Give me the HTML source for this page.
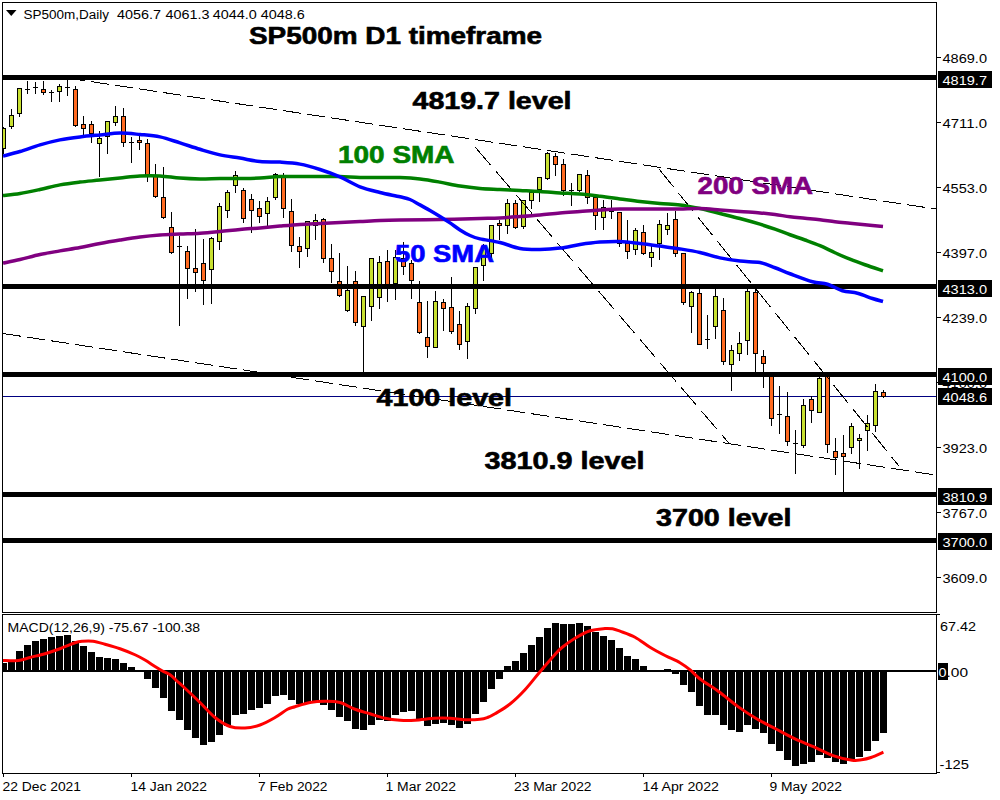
<!DOCTYPE html>
<html><head><meta charset="utf-8"><style>
html,body{margin:0;padding:0;background:#fff;}
body{width:1000px;height:800px;position:relative;overflow:hidden;}
svg{position:absolute;left:0;top:0;}
</style></head><body>
<svg width="1000" height="800" viewBox="0 0 1000 800">
<rect x="0" y="0" width="1000" height="800" fill="#fff"/>
<defs><clipPath id="mc"><rect x="3" y="3" width="933" height="609"/></clipPath><clipPath id="mm"><rect x="3" y="615" width="933" height="158"/></clipPath></defs>
<g shape-rendering="crispEdges"><rect x="2" y="2" width="935" height="1" fill="#000"/><rect x="2" y="2" width="1" height="611" fill="#000"/><rect x="2" y="612" width="935" height="1" fill="#000"/><rect x="936" y="2" width="1" height="611" fill="#000"/><rect x="2" y="614" width="935" height="1" fill="#000"/><rect x="2" y="614" width="1" height="160" fill="#000"/><rect x="2" y="773" width="935" height="1" fill="#000"/><rect x="936" y="614" width="1" height="160" fill="#000"/><rect x="937" y="57" width="4" height="1" fill="#000"/><rect x="937" y="122" width="4" height="1" fill="#000"/><rect x="937" y="187" width="4" height="1" fill="#000"/><rect x="937" y="252" width="4" height="1" fill="#000"/><rect x="937" y="317" width="4" height="1" fill="#000"/><rect x="937" y="382" width="4" height="1" fill="#000"/><rect x="937" y="447" width="4" height="1" fill="#000"/><rect x="937" y="512" width="4" height="1" fill="#000"/><rect x="937" y="577" width="4" height="1" fill="#000"/><rect x="3" y="774" width="1" height="3" fill="#000"/><rect x="131" y="774" width="1" height="3" fill="#000"/><rect x="259" y="774" width="1" height="3" fill="#000"/><rect x="387" y="774" width="1" height="3" fill="#000"/><rect x="515" y="774" width="1" height="3" fill="#000"/><rect x="643" y="774" width="1" height="3" fill="#000"/><rect x="771" y="774" width="1" height="3" fill="#000"/><rect x="937" y="614" width="3" height="1" fill="#000"/><rect x="937" y="772" width="3" height="1" fill="#000"/></g>
<g clip-path="url(#mc)">
<rect x="3" y="396" width="933" height="1" fill="#000080" shape-rendering="crispEdges"/>
<g shape-rendering="crispEdges"><rect x="3" y="127" width="1" height="27" fill="#000"/><rect x="1" y="128" width="5" height="21" fill="#000"/><rect x="2" y="129" width="3" height="19" fill="#c8e030"/><rect x="11" y="109" width="1" height="20" fill="#000"/><rect x="9" y="115" width="5" height="12" fill="#000"/><rect x="10" y="116" width="3" height="10" fill="#c8e030"/><rect x="19" y="88" width="1" height="29" fill="#000"/><rect x="17" y="88" width="5" height="26" fill="#000"/><rect x="18" y="89" width="3" height="24" fill="#c8e030"/><rect x="27" y="81" width="1" height="13" fill="#000"/><rect x="25" y="89" width="5" height="1" fill="#000"/><rect x="35" y="82" width="1" height="12" fill="#000"/><rect x="33" y="87" width="5" height="1" fill="#000"/><rect x="43" y="81" width="1" height="14" fill="#000"/><rect x="41" y="89" width="5" height="4" fill="#000"/><rect x="42" y="90" width="3" height="2" fill="#ff6a20"/><rect x="51" y="90" width="1" height="12" fill="#000"/><rect x="49" y="92" width="5" height="1" fill="#000"/><rect x="59" y="84" width="1" height="18" fill="#000"/><rect x="57" y="86" width="5" height="6" fill="#000"/><rect x="58" y="87" width="3" height="4" fill="#c8e030"/><rect x="67" y="80" width="1" height="16" fill="#000"/><rect x="65" y="87" width="5" height="1" fill="#000"/><rect x="75" y="86" width="1" height="41" fill="#000"/><rect x="73" y="89" width="5" height="37" fill="#000"/><rect x="74" y="90" width="3" height="35" fill="#ff6a20"/><rect x="83" y="116" width="1" height="19" fill="#000"/><rect x="81" y="124" width="5" height="5" fill="#000"/><rect x="82" y="125" width="3" height="3" fill="#ff6a20"/><rect x="91" y="121" width="1" height="22" fill="#000"/><rect x="89" y="124" width="5" height="10" fill="#000"/><rect x="90" y="125" width="3" height="8" fill="#ff6a20"/><rect x="99" y="131" width="1" height="46" fill="#000"/><rect x="97" y="138" width="5" height="6" fill="#000"/><rect x="98" y="139" width="3" height="4" fill="#c8e030"/><rect x="107" y="121" width="1" height="33" fill="#000"/><rect x="105" y="121" width="5" height="16" fill="#000"/><rect x="106" y="122" width="3" height="14" fill="#c8e030"/><rect x="115" y="106" width="1" height="20" fill="#000"/><rect x="113" y="116" width="5" height="7" fill="#000"/><rect x="114" y="117" width="3" height="5" fill="#c8e030"/><rect x="123" y="108" width="1" height="39" fill="#000"/><rect x="121" y="116" width="5" height="27" fill="#000"/><rect x="122" y="117" width="3" height="25" fill="#ff6a20"/><rect x="131" y="137" width="1" height="26" fill="#000"/><rect x="129" y="142" width="5" height="1" fill="#000"/><rect x="139" y="136" width="1" height="14" fill="#000"/><rect x="137" y="140" width="5" height="3" fill="#000"/><rect x="138" y="141" width="3" height="1" fill="#ff6a20"/><rect x="147" y="139" width="1" height="43" fill="#000"/><rect x="145" y="143" width="5" height="33" fill="#000"/><rect x="146" y="144" width="3" height="31" fill="#ff6a20"/><rect x="155" y="164" width="1" height="34" fill="#000"/><rect x="153" y="176" width="5" height="21" fill="#000"/><rect x="154" y="177" width="3" height="19" fill="#ff6a20"/><rect x="163" y="167" width="1" height="52" fill="#000"/><rect x="161" y="197" width="5" height="21" fill="#000"/><rect x="162" y="198" width="3" height="19" fill="#ff6a20"/><rect x="171" y="212" width="1" height="42" fill="#000"/><rect x="169" y="227" width="5" height="26" fill="#000"/><rect x="170" y="228" width="3" height="24" fill="#ff6a20"/><rect x="179" y="236" width="1" height="90" fill="#000"/><rect x="177" y="246" width="5" height="1" fill="#000"/><rect x="187" y="246" width="1" height="53" fill="#000"/><rect x="185" y="251" width="5" height="18" fill="#000"/><rect x="186" y="252" width="3" height="16" fill="#ff6a20"/><rect x="195" y="229" width="1" height="63" fill="#000"/><rect x="193" y="268" width="5" height="5" fill="#000"/><rect x="194" y="269" width="3" height="3" fill="#ff6a20"/><rect x="203" y="239" width="1" height="66" fill="#000"/><rect x="201" y="263" width="5" height="18" fill="#000"/><rect x="202" y="264" width="3" height="16" fill="#ff6a20"/><rect x="211" y="237" width="1" height="67" fill="#000"/><rect x="209" y="238" width="5" height="32" fill="#000"/><rect x="210" y="239" width="3" height="30" fill="#c8e030"/><rect x="219" y="203" width="1" height="47" fill="#000"/><rect x="217" y="206" width="5" height="36" fill="#000"/><rect x="218" y="207" width="3" height="34" fill="#c8e030"/><rect x="227" y="190" width="1" height="28" fill="#000"/><rect x="225" y="192" width="5" height="19" fill="#000"/><rect x="226" y="193" width="3" height="17" fill="#c8e030"/><rect x="235" y="171" width="1" height="22" fill="#000"/><rect x="233" y="175" width="5" height="11" fill="#000"/><rect x="234" y="176" width="3" height="9" fill="#c8e030"/><rect x="243" y="188" width="1" height="35" fill="#000"/><rect x="241" y="190" width="5" height="29" fill="#000"/><rect x="242" y="191" width="3" height="27" fill="#ff6a20"/><rect x="251" y="194" width="1" height="39" fill="#000"/><rect x="249" y="199" width="5" height="12" fill="#000"/><rect x="250" y="200" width="3" height="10" fill="#ff6a20"/><rect x="259" y="201" width="1" height="22" fill="#000"/><rect x="257" y="208" width="5" height="9" fill="#000"/><rect x="258" y="209" width="3" height="7" fill="#ff6a20"/><rect x="267" y="197" width="1" height="29" fill="#000"/><rect x="265" y="201" width="5" height="13" fill="#000"/><rect x="266" y="202" width="3" height="11" fill="#c8e030"/><rect x="275" y="173" width="1" height="27" fill="#000"/><rect x="273" y="174" width="5" height="24" fill="#000"/><rect x="274" y="175" width="3" height="22" fill="#c8e030"/><rect x="283" y="173" width="1" height="45" fill="#000"/><rect x="281" y="176" width="5" height="33" fill="#000"/><rect x="282" y="177" width="3" height="31" fill="#ff6a20"/><rect x="291" y="199" width="1" height="53" fill="#000"/><rect x="289" y="211" width="5" height="35" fill="#000"/><rect x="290" y="212" width="3" height="33" fill="#ff6a20"/><rect x="299" y="237" width="1" height="31" fill="#000"/><rect x="297" y="246" width="5" height="6" fill="#000"/><rect x="298" y="247" width="3" height="4" fill="#ff6a20"/><rect x="307" y="221" width="1" height="36" fill="#000"/><rect x="305" y="221" width="5" height="28" fill="#000"/><rect x="306" y="222" width="3" height="26" fill="#c8e030"/><rect x="315" y="214" width="1" height="26" fill="#000"/><rect x="313" y="220" width="5" height="6" fill="#000"/><rect x="314" y="221" width="3" height="4" fill="#c8e030"/><rect x="323" y="218" width="1" height="45" fill="#000"/><rect x="321" y="219" width="5" height="40" fill="#000"/><rect x="322" y="220" width="3" height="38" fill="#ff6a20"/><rect x="331" y="244" width="1" height="39" fill="#000"/><rect x="329" y="258" width="5" height="14" fill="#000"/><rect x="330" y="259" width="3" height="12" fill="#ff6a20"/><rect x="339" y="253" width="1" height="44" fill="#000"/><rect x="337" y="281" width="5" height="15" fill="#000"/><rect x="338" y="282" width="3" height="13" fill="#ff6a20"/><rect x="347" y="266" width="1" height="46" fill="#000"/><rect x="345" y="290" width="5" height="21" fill="#000"/><rect x="346" y="291" width="3" height="19" fill="#c8e030"/><rect x="355" y="271" width="1" height="55" fill="#000"/><rect x="353" y="281" width="5" height="42" fill="#000"/><rect x="354" y="282" width="3" height="40" fill="#ff6a20"/><rect x="363" y="296" width="1" height="76" fill="#000"/><rect x="361" y="296" width="5" height="31" fill="#000"/><rect x="362" y="297" width="3" height="29" fill="#c8e030"/><rect x="371" y="258" width="1" height="63" fill="#000"/><rect x="369" y="258" width="5" height="49" fill="#000"/><rect x="370" y="259" width="3" height="47" fill="#c8e030"/><rect x="379" y="256" width="1" height="53" fill="#000"/><rect x="377" y="262" width="5" height="36" fill="#000"/><rect x="378" y="263" width="3" height="34" fill="#c8e030"/><rect x="387" y="250" width="1" height="52" fill="#000"/><rect x="385" y="261" width="5" height="28" fill="#000"/><rect x="386" y="262" width="3" height="26" fill="#ff6a20"/><rect x="395" y="250" width="1" height="50" fill="#000"/><rect x="393" y="257" width="5" height="27" fill="#000"/><rect x="394" y="258" width="3" height="25" fill="#c8e030"/><rect x="403" y="242" width="1" height="33" fill="#000"/><rect x="401" y="258" width="5" height="9" fill="#000"/><rect x="402" y="259" width="3" height="7" fill="#ff6a20"/><rect x="411" y="260" width="1" height="39" fill="#000"/><rect x="409" y="263" width="5" height="18" fill="#000"/><rect x="410" y="264" width="3" height="16" fill="#ff6a20"/><rect x="419" y="281" width="1" height="53" fill="#000"/><rect x="417" y="302" width="5" height="31" fill="#000"/><rect x="418" y="303" width="3" height="29" fill="#ff6a20"/><rect x="427" y="301" width="1" height="57" fill="#000"/><rect x="425" y="337" width="5" height="10" fill="#000"/><rect x="426" y="338" width="3" height="8" fill="#ff6a20"/><rect x="435" y="291" width="1" height="57" fill="#000"/><rect x="433" y="301" width="5" height="47" fill="#000"/><rect x="434" y="302" width="3" height="45" fill="#c8e030"/><rect x="443" y="299" width="1" height="32" fill="#000"/><rect x="441" y="302" width="5" height="7" fill="#000"/><rect x="442" y="303" width="3" height="5" fill="#ff6a20"/><rect x="451" y="277" width="1" height="57" fill="#000"/><rect x="449" y="307" width="5" height="25" fill="#000"/><rect x="450" y="308" width="3" height="23" fill="#ff6a20"/><rect x="459" y="311" width="1" height="39" fill="#000"/><rect x="457" y="324" width="5" height="21" fill="#000"/><rect x="458" y="325" width="3" height="19" fill="#ff6a20"/><rect x="467" y="303" width="1" height="56" fill="#000"/><rect x="465" y="306" width="5" height="36" fill="#000"/><rect x="466" y="307" width="3" height="34" fill="#c8e030"/><rect x="475" y="267" width="1" height="47" fill="#000"/><rect x="473" y="267" width="5" height="42" fill="#000"/><rect x="474" y="268" width="3" height="40" fill="#c8e030"/><rect x="483" y="244" width="1" height="37" fill="#000"/><rect x="481" y="246" width="5" height="20" fill="#000"/><rect x="482" y="247" width="3" height="18" fill="#c8e030"/><rect x="491" y="225" width="1" height="33" fill="#000"/><rect x="489" y="225" width="5" height="29" fill="#000"/><rect x="490" y="226" width="3" height="27" fill="#c8e030"/><rect x="499" y="220" width="1" height="20" fill="#000"/><rect x="497" y="223" width="5" height="3" fill="#000"/><rect x="498" y="224" width="3" height="1" fill="#ff6a20"/><rect x="507" y="199" width="1" height="35" fill="#000"/><rect x="505" y="203" width="5" height="23" fill="#000"/><rect x="506" y="204" width="3" height="21" fill="#c8e030"/><rect x="515" y="200" width="1" height="29" fill="#000"/><rect x="513" y="203" width="5" height="25" fill="#000"/><rect x="514" y="204" width="3" height="23" fill="#ff6a20"/><rect x="523" y="200" width="1" height="29" fill="#000"/><rect x="521" y="200" width="5" height="27" fill="#000"/><rect x="522" y="201" width="3" height="25" fill="#c8e030"/><rect x="531" y="190" width="1" height="19" fill="#000"/><rect x="529" y="192" width="5" height="9" fill="#000"/><rect x="530" y="193" width="3" height="7" fill="#c8e030"/><rect x="539" y="177" width="1" height="25" fill="#000"/><rect x="537" y="177" width="5" height="13" fill="#000"/><rect x="538" y="178" width="3" height="11" fill="#c8e030"/><rect x="547" y="152" width="1" height="28" fill="#000"/><rect x="545" y="153" width="5" height="26" fill="#000"/><rect x="546" y="154" width="3" height="24" fill="#c8e030"/><rect x="555" y="153" width="1" height="23" fill="#000"/><rect x="553" y="156" width="5" height="9" fill="#000"/><rect x="554" y="157" width="3" height="7" fill="#ff6a20"/><rect x="563" y="159" width="1" height="37" fill="#000"/><rect x="561" y="164" width="5" height="27" fill="#000"/><rect x="562" y="165" width="3" height="25" fill="#ff6a20"/><rect x="571" y="183" width="1" height="23" fill="#000"/><rect x="569" y="190" width="5" height="1" fill="#000"/><rect x="579" y="174" width="1" height="18" fill="#000"/><rect x="577" y="174" width="5" height="17" fill="#000"/><rect x="578" y="175" width="3" height="15" fill="#c8e030"/><rect x="587" y="170" width="1" height="34" fill="#000"/><rect x="585" y="175" width="5" height="23" fill="#000"/><rect x="586" y="176" width="3" height="21" fill="#ff6a20"/><rect x="595" y="197" width="1" height="33" fill="#000"/><rect x="593" y="197" width="5" height="19" fill="#000"/><rect x="594" y="198" width="3" height="17" fill="#ff6a20"/><rect x="603" y="200" width="1" height="30" fill="#000"/><rect x="601" y="207" width="5" height="11" fill="#000"/><rect x="602" y="208" width="3" height="9" fill="#c8e030"/><rect x="611" y="200" width="1" height="19" fill="#000"/><rect x="609" y="211" width="5" height="1" fill="#000"/><rect x="619" y="212" width="1" height="35" fill="#000"/><rect x="617" y="212" width="5" height="32" fill="#000"/><rect x="618" y="213" width="3" height="30" fill="#ff6a20"/><rect x="627" y="220" width="1" height="39" fill="#000"/><rect x="625" y="243" width="5" height="9" fill="#000"/><rect x="626" y="244" width="3" height="7" fill="#ff6a20"/><rect x="635" y="228" width="1" height="27" fill="#000"/><rect x="633" y="230" width="5" height="20" fill="#000"/><rect x="634" y="231" width="3" height="18" fill="#c8e030"/><rect x="643" y="225" width="1" height="30" fill="#000"/><rect x="641" y="232" width="5" height="22" fill="#000"/><rect x="642" y="233" width="3" height="20" fill="#ff6a20"/><rect x="651" y="246" width="1" height="21" fill="#000"/><rect x="649" y="252" width="5" height="6" fill="#000"/><rect x="650" y="253" width="3" height="4" fill="#c8e030"/><rect x="659" y="220" width="1" height="40" fill="#000"/><rect x="657" y="224" width="5" height="20" fill="#000"/><rect x="658" y="225" width="3" height="18" fill="#c8e030"/><rect x="667" y="213" width="1" height="22" fill="#000"/><rect x="665" y="225" width="5" height="5" fill="#000"/><rect x="666" y="226" width="3" height="3" fill="#c8e030"/><rect x="675" y="211" width="1" height="46" fill="#000"/><rect x="673" y="219" width="5" height="35" fill="#000"/><rect x="674" y="220" width="3" height="33" fill="#ff6a20"/><rect x="683" y="253" width="1" height="52" fill="#000"/><rect x="681" y="253" width="5" height="50" fill="#000"/><rect x="682" y="254" width="3" height="48" fill="#ff6a20"/><rect x="691" y="291" width="1" height="42" fill="#000"/><rect x="689" y="292" width="5" height="15" fill="#000"/><rect x="690" y="293" width="3" height="13" fill="#c8e030"/><rect x="699" y="288" width="1" height="57" fill="#000"/><rect x="697" y="293" width="5" height="52" fill="#000"/><rect x="698" y="294" width="3" height="50" fill="#ff6a20"/><rect x="707" y="315" width="1" height="34" fill="#000"/><rect x="705" y="339" width="5" height="1" fill="#000"/><rect x="715" y="286" width="1" height="53" fill="#000"/><rect x="713" y="296" width="5" height="31" fill="#000"/><rect x="714" y="297" width="3" height="29" fill="#c8e030"/><rect x="723" y="298" width="1" height="67" fill="#000"/><rect x="721" y="310" width="5" height="52" fill="#000"/><rect x="722" y="311" width="3" height="50" fill="#ff6a20"/><rect x="731" y="345" width="1" height="46" fill="#000"/><rect x="729" y="350" width="5" height="15" fill="#000"/><rect x="730" y="351" width="3" height="13" fill="#c8e030"/><rect x="739" y="332" width="1" height="29" fill="#000"/><rect x="737" y="343" width="5" height="11" fill="#000"/><rect x="738" y="344" width="3" height="9" fill="#c8e030"/><rect x="747" y="286" width="1" height="69" fill="#000"/><rect x="745" y="291" width="5" height="50" fill="#000"/><rect x="746" y="292" width="3" height="48" fill="#c8e030"/><rect x="755" y="286" width="1" height="86" fill="#000"/><rect x="753" y="292" width="5" height="62" fill="#000"/><rect x="754" y="293" width="3" height="60" fill="#ff6a20"/><rect x="763" y="350" width="1" height="38" fill="#000"/><rect x="761" y="356" width="5" height="8" fill="#000"/><rect x="762" y="357" width="3" height="6" fill="#ff6a20"/><rect x="771" y="372" width="1" height="54" fill="#000"/><rect x="769" y="373" width="5" height="46" fill="#000"/><rect x="770" y="374" width="3" height="44" fill="#ff6a20"/><rect x="779" y="386" width="1" height="48" fill="#000"/><rect x="777" y="414" width="5" height="1" fill="#000"/><rect x="787" y="392" width="1" height="54" fill="#000"/><rect x="785" y="416" width="5" height="26" fill="#000"/><rect x="786" y="417" width="3" height="24" fill="#ff6a20"/><rect x="795" y="430" width="1" height="44" fill="#000"/><rect x="793" y="443" width="5" height="1" fill="#000"/><rect x="803" y="399" width="1" height="49" fill="#000"/><rect x="801" y="405" width="5" height="41" fill="#000"/><rect x="802" y="406" width="3" height="39" fill="#c8e030"/><rect x="811" y="396" width="1" height="27" fill="#000"/><rect x="809" y="399" width="5" height="12" fill="#000"/><rect x="810" y="400" width="3" height="10" fill="#ff6a20"/><rect x="819" y="374" width="1" height="39" fill="#000"/><rect x="817" y="378" width="5" height="35" fill="#000"/><rect x="818" y="379" width="3" height="33" fill="#c8e030"/><rect x="827" y="374" width="1" height="79" fill="#000"/><rect x="825" y="376" width="5" height="69" fill="#000"/><rect x="826" y="377" width="3" height="67" fill="#ff6a20"/><rect x="835" y="438" width="1" height="37" fill="#000"/><rect x="833" y="451" width="5" height="7" fill="#000"/><rect x="834" y="452" width="3" height="5" fill="#ff6a20"/><rect x="843" y="435" width="1" height="57" fill="#000"/><rect x="841" y="453" width="5" height="4" fill="#000"/><rect x="842" y="454" width="3" height="2" fill="#ff6a20"/><rect x="851" y="423" width="1" height="31" fill="#000"/><rect x="849" y="426" width="5" height="22" fill="#000"/><rect x="850" y="427" width="3" height="20" fill="#c8e030"/><rect x="859" y="434" width="1" height="35" fill="#000"/><rect x="857" y="438" width="5" height="3" fill="#000"/><rect x="858" y="439" width="3" height="1" fill="#c8e030"/><rect x="867" y="415" width="1" height="36" fill="#000"/><rect x="865" y="423" width="5" height="8" fill="#000"/><rect x="866" y="424" width="3" height="6" fill="#c8e030"/><rect x="875" y="384" width="1" height="48" fill="#000"/><rect x="873" y="391" width="5" height="35" fill="#000"/><rect x="874" y="392" width="3" height="33" fill="#c8e030"/><rect x="883" y="390" width="1" height="8" fill="#000"/><rect x="881" y="392" width="5" height="5" fill="#000"/><rect x="882" y="393" width="3" height="3" fill="#ff6a20"/></g>
<g shape-rendering="crispEdges"><line x1="67" y1="78" x2="936" y2="209.05" stroke="#000" stroke-width="1" stroke-dasharray="18.20 6.07"/><line x1="3" y1="333.5" x2="936" y2="475.07" stroke="#000" stroke-width="1" stroke-dasharray="18.21 6.07"/><line x1="475.3" y1="147.2" x2="729" y2="443.25" stroke="#000" stroke-width="1" stroke-dasharray="23.71 7.90"/><line x1="659.1" y1="169.1" x2="898.7" y2="465.75" stroke="#000" stroke-width="1" stroke-dasharray="23.14 7.71"/></g>
<g shape-rendering="crispEdges"><rect x="3" y="75" width="934" height="5" fill="#000"/><rect x="3" y="284" width="934" height="5" fill="#000"/><rect x="3" y="372" width="934" height="5" fill="#000"/><rect x="3" y="492" width="934" height="5" fill="#000"/><rect x="3" y="538" width="934" height="5" fill="#000"/></g>
<g transform="translate(0,0.5)"><path d="M3,195 C5.83,194.67 13.83,194.00 20,193 C26.17,192.00 33.33,190.43 40,189 C46.67,187.57 53.33,185.63 60,184.4 C66.67,183.17 73.33,182.40 80,181.6 C86.67,180.80 93.33,180.30 100,179.6 C106.67,178.90 113.33,178.10 120,177.4 C126.67,176.70 133.33,175.73 140,175.4 C146.67,175.07 153.33,175.03 160,175.4 C166.67,175.77 173.33,177.08 180,177.6 C186.67,178.12 193.33,178.43 200,178.5 C206.67,178.57 213.33,178.08 220,178 C226.67,177.92 233.33,178.07 240,178 C246.67,177.93 253.33,177.93 260,177.6 C266.67,177.27 273.33,176.27 280,176 C286.67,175.73 293.33,176.00 300,176 C306.67,176.00 313.33,176.00 320,176 C326.67,176.00 333.33,175.83 340,176 C346.67,176.17 353.33,176.83 360,177 C366.67,177.17 373.33,177.00 380,177 C386.67,177.00 393.33,176.77 400,177 C406.67,177.23 413.33,177.63 420,178.4 C426.67,179.17 433.33,180.40 440,181.6 C446.67,182.80 453.33,184.53 460,185.6 C466.67,186.67 473.33,187.43 480,188 C486.67,188.57 493.33,188.67 500,189 C506.67,189.33 513.33,189.67 520,190 C526.67,190.33 533.33,190.60 540,191 C546.67,191.40 553.33,191.97 560,192.4 C566.67,192.83 573.33,193.03 580,193.6 C586.67,194.17 593.33,195.00 600,195.8 C606.67,196.60 613.33,197.53 620,198.4 C626.67,199.27 633.33,200.23 640,201 C646.67,201.77 653.33,202.43 660,203 C666.67,203.57 673.33,203.57 680,204.4 C686.67,205.23 693.33,206.57 700,208 C706.67,209.43 713.33,211.33 720,213 C726.67,214.67 733.33,216.22 740,218 C746.67,219.78 754.17,221.92 760,223.7 C765.83,225.48 770.00,226.94 775,228.7 C780.00,230.46 785.00,232.45 790,234.25 C795.00,236.05 800.00,237.68 805,239.5 C810.00,241.32 815.00,243.07 820,245.2 C825.00,247.32 830.00,250.00 835,252.25 C840.00,254.50 845.00,256.70 850,258.7 C855.00,260.70 859.50,262.32 865,264.25 C870.50,266.18 880.00,269.25 883,270.25" fill="none" stroke="#008000" stroke-width="3.5" stroke-linejoin="round"/><path d="M3,262.6 C5.83,262.00 13.83,260.43 20,259 C26.17,257.57 33.33,255.43 40,254 C46.67,252.57 53.33,251.57 60,250.4 C66.67,249.23 73.33,248.23 80,247 C86.67,245.77 93.33,244.23 100,243 C106.67,241.77 113.33,240.67 120,239.6 C126.67,238.53 133.33,237.43 140,236.6 C146.67,235.77 153.33,235.10 160,234.6 C166.67,234.10 173.33,233.92 180,233.6 C186.67,233.28 193.33,233.13 200,232.7 C206.67,232.27 213.33,231.62 220,231 C226.67,230.38 233.33,229.60 240,229 C246.67,228.40 253.33,227.97 260,227.4 C266.67,226.83 273.33,226.17 280,225.6 C286.67,225.03 293.33,224.43 300,224 C306.67,223.57 313.33,223.33 320,223 C326.67,222.67 333.33,222.33 340,222 C346.67,221.67 353.33,221.33 360,221 C366.67,220.67 373.33,220.25 380,220 C386.67,219.75 390.00,219.67 400,219.5 C410.00,219.33 426.67,219.25 440,219 C453.33,218.75 470.00,218.27 480,218 C490.00,217.73 493.33,217.73 500,217.4 C506.67,217.07 513.33,216.50 520,216 C526.67,215.50 533.33,215.00 540,214.4 C546.67,213.80 553.33,212.97 560,212.4 C566.67,211.83 573.33,211.47 580,211 C586.67,210.53 593.33,210.00 600,209.6 C606.67,209.20 613.33,208.77 620,208.6 C626.67,208.43 633.33,208.60 640,208.6 C646.67,208.60 653.33,208.63 660,208.6 C666.67,208.57 673.33,208.50 680,208.4 C686.67,208.30 693.33,207.83 700,208 C706.67,208.17 713.33,208.90 720,209.4 C726.67,209.90 733.33,210.50 740,211 C746.67,211.50 754.17,211.90 760,212.4 C765.83,212.90 770.00,213.36 775,214 C780.00,214.64 785.00,215.62 790,216.25 C795.00,216.88 800.00,217.25 805,217.75 C810.00,218.25 815.00,218.68 820,219.25 C825.00,219.82 830.00,220.62 835,221.2 C840.00,221.77 845.00,222.20 850,222.7 C855.00,223.20 859.50,223.65 865,224.2 C870.50,224.75 880.00,225.70 883,226" fill="none" stroke="#800080" stroke-width="3.5" stroke-linejoin="round"/><path d="M3,155.6 C5.83,154.83 13.83,152.87 20,151 C26.17,149.13 33.33,146.33 40,144.4 C46.67,142.47 53.33,140.73 60,139.4 C66.67,138.07 73.33,137.23 80,136.4 C86.67,135.57 93.33,135.03 100,134.4 C106.67,133.77 113.33,132.67 120,132.6 C126.67,132.53 133.33,133.37 140,134 C146.67,134.63 153.33,135.00 160,136.4 C166.67,137.80 173.33,140.33 180,142.4 C186.67,144.47 193.33,146.80 200,148.8 C206.67,150.80 213.33,152.93 220,154.4 C226.67,155.87 233.33,156.50 240,157.6 C246.67,158.70 253.33,160.33 260,161 C266.67,161.67 273.33,161.17 280,161.6 C286.67,162.03 293.33,162.37 300,163.6 C306.67,164.83 313.33,166.87 320,169 C326.67,171.13 333.33,173.50 340,176.4 C346.67,179.30 353.33,183.80 360,186.4 C366.67,189.00 373.33,190.35 380,192 C386.67,193.65 395.00,195.13 400,196.3 C405.00,197.47 406.67,197.65 410,199 C413.33,200.35 416.67,202.57 420,204.4 C423.33,206.23 426.67,208.07 430,210 C433.33,211.93 436.67,213.93 440,216 C443.33,218.07 446.67,220.17 450,222.4 C453.33,224.63 456.67,227.30 460,229.4 C463.33,231.50 466.67,233.50 470,235 C473.33,236.50 475.00,237.23 480,238.4 C485.00,239.57 493.33,240.40 500,242 C506.67,243.60 513.33,246.83 520,248 C526.67,249.17 533.33,249.07 540,249 C546.67,248.93 553.33,248.43 560,247.6 C566.67,246.77 573.33,245.00 580,244 C586.67,243.00 593.33,242.10 600,241.6 C606.67,241.10 613.33,240.77 620,241 C626.67,241.23 633.33,242.23 640,243 C646.67,243.77 653.33,244.70 660,245.6 C666.67,246.50 673.33,247.33 680,248.4 C686.67,249.47 693.33,250.50 700,252 C706.67,253.50 713.33,255.97 720,257.4 C726.67,258.83 733.33,259.83 740,260.6 C746.67,261.37 754.17,260.89 760,262 C765.83,263.11 770.00,265.38 775,267.25 C780.00,269.12 783.75,270.93 790,273.25 C796.25,275.57 806.25,279.45 812.5,281.2 C818.75,282.95 822.50,282.25 827.5,283.75 C832.50,285.25 837.50,288.70 842.5,290.2 C847.50,291.70 852.50,291.45 857.5,292.75 C862.50,294.05 868.25,296.62 872.5,298 C876.75,299.38 881.25,300.50 883,301" fill="none" stroke="#0000ff" stroke-width="3.5" stroke-linejoin="round"/></g>
</g>
<g><text x="23.5" y="18.7" font-family="Liberation Sans" font-size="12.5" font-weight="normal" fill="#000" textLength="85.5" lengthAdjust="spacingAndGlyphs">SP500m,Daily</text><text x="117" y="18.7" font-family="Liberation Sans" font-size="12.5" font-weight="normal" fill="#000" textLength="44" lengthAdjust="spacingAndGlyphs">4056.7</text><text x="165.5" y="18.7" font-family="Liberation Sans" font-size="12.5" font-weight="normal" fill="#000" textLength="44" lengthAdjust="spacingAndGlyphs">4061.3</text><text x="212.7" y="18.7" font-family="Liberation Sans" font-size="12.5" font-weight="normal" fill="#000" textLength="44" lengthAdjust="spacingAndGlyphs">4044.0</text><text x="260.7" y="18.7" font-family="Liberation Sans" font-size="12.5" font-weight="normal" fill="#000" textLength="44" lengthAdjust="spacingAndGlyphs">4048.6</text><text x="249" y="44" font-family="Liberation Sans" font-size="23" font-weight="bold" fill="#000" stroke="#000" stroke-width="0.6" textLength="293" lengthAdjust="spacingAndGlyphs">SP500m D1 timeframe</text><text x="412.5" y="109" font-family="Liberation Sans" font-size="23" font-weight="bold" fill="#000" stroke="#000" stroke-width="0.6" textLength="159" lengthAdjust="spacingAndGlyphs">4819.7 level</text><text x="338" y="162.6" font-family="Liberation Sans" font-size="23" font-weight="bold" fill="#008000" stroke="#008000" stroke-width="0.6" textLength="116.5" lengthAdjust="spacingAndGlyphs">100 SMA</text><text x="697.5" y="193.9" font-family="Liberation Sans" font-size="23" font-weight="bold" fill="#800080" stroke="#800080" stroke-width="0.6" textLength="115.5" lengthAdjust="spacingAndGlyphs">200 SMA</text><text x="395" y="262.2" font-family="Liberation Sans" font-size="23" font-weight="bold" fill="#0000ff" stroke="#0000ff" stroke-width="0.6" textLength="99" lengthAdjust="spacingAndGlyphs">50 SMA</text><text x="376.5" y="406" font-family="Liberation Sans" font-size="23" font-weight="bold" fill="#000" stroke="#000" stroke-width="0.6" textLength="135.5" lengthAdjust="spacingAndGlyphs">4100 level</text><text x="484.5" y="469" font-family="Liberation Sans" font-size="23" font-weight="bold" fill="#000" stroke="#000" stroke-width="0.6" textLength="160" lengthAdjust="spacingAndGlyphs">3810.9 level</text><text x="656" y="526" font-family="Liberation Sans" font-size="23" font-weight="bold" fill="#000" stroke="#000" stroke-width="0.6" textLength="135.5" lengthAdjust="spacingAndGlyphs">3700 level</text></g>
<g clip-path="url(#mm)"><g shape-rendering="crispEdges"><rect x="3" y="663" width="4" height="9" fill="#000"/><rect x="8" y="661" width="7" height="11" fill="#000"/><rect x="16" y="651" width="7" height="21" fill="#000"/><rect x="24" y="645" width="7" height="27" fill="#000"/><rect x="32" y="641" width="7" height="31" fill="#000"/><rect x="40" y="639" width="7" height="33" fill="#000"/><rect x="48" y="637" width="7" height="35" fill="#000"/><rect x="56" y="636" width="7" height="36" fill="#000"/><rect x="64" y="635" width="7" height="37" fill="#000"/><rect x="72" y="641" width="7" height="31" fill="#000"/><rect x="80" y="646" width="7" height="26" fill="#000"/><rect x="88" y="652" width="7" height="20" fill="#000"/><rect x="96" y="657" width="7" height="15" fill="#000"/><rect x="104" y="658" width="7" height="14" fill="#000"/><rect x="112" y="659" width="7" height="13" fill="#000"/><rect x="120" y="663" width="7" height="9" fill="#000"/><rect x="128" y="667" width="7" height="5" fill="#000"/><rect x="144" y="670" width="7" height="9" fill="#000"/><rect x="152" y="670" width="7" height="18" fill="#000"/><rect x="160" y="670" width="7" height="28" fill="#000"/><rect x="168" y="670" width="7" height="41" fill="#000"/><rect x="176" y="670" width="7" height="50" fill="#000"/><rect x="184" y="670" width="7" height="60" fill="#000"/><rect x="192" y="670" width="7" height="68" fill="#000"/><rect x="200" y="670" width="7" height="75" fill="#000"/><rect x="208" y="670" width="7" height="72" fill="#000"/><rect x="216" y="670" width="7" height="65" fill="#000"/><rect x="224" y="670" width="7" height="56" fill="#000"/><rect x="232" y="670" width="7" height="45" fill="#000"/><rect x="240" y="670" width="7" height="44" fill="#000"/><rect x="248" y="670" width="7" height="40" fill="#000"/><rect x="256" y="670" width="7" height="38" fill="#000"/><rect x="264" y="670" width="7" height="34" fill="#000"/><rect x="272" y="670" width="7" height="26" fill="#000"/><rect x="280" y="670" width="7" height="25" fill="#000"/><rect x="288" y="670" width="7" height="30" fill="#000"/><rect x="296" y="670" width="7" height="34" fill="#000"/><rect x="304" y="670" width="7" height="34" fill="#000"/><rect x="312" y="670" width="7" height="31" fill="#000"/><rect x="320" y="670" width="7" height="35" fill="#000"/><rect x="328" y="670" width="7" height="40" fill="#000"/><rect x="336" y="670" width="7" height="47" fill="#000"/><rect x="344" y="670" width="7" height="51" fill="#000"/><rect x="352" y="670" width="7" height="59" fill="#000"/><rect x="360" y="670" width="7" height="60" fill="#000"/><rect x="368" y="670" width="7" height="55" fill="#000"/><rect x="376" y="670" width="7" height="50" fill="#000"/><rect x="384" y="670" width="7" height="51" fill="#000"/><rect x="392" y="670" width="7" height="45" fill="#000"/><rect x="400" y="670" width="7" height="42" fill="#000"/><rect x="408" y="670" width="7" height="41" fill="#000"/><rect x="416" y="670" width="7" height="49" fill="#000"/><rect x="424" y="670" width="7" height="56" fill="#000"/><rect x="432" y="670" width="7" height="54" fill="#000"/><rect x="440" y="670" width="7" height="53" fill="#000"/><rect x="448" y="670" width="7" height="55" fill="#000"/><rect x="456" y="670" width="7" height="58" fill="#000"/><rect x="464" y="670" width="7" height="54" fill="#000"/><rect x="472" y="670" width="7" height="44" fill="#000"/><rect x="480" y="670" width="7" height="32" fill="#000"/><rect x="488" y="670" width="7" height="19" fill="#000"/><rect x="496" y="670" width="7" height="9" fill="#000"/><rect x="504" y="666" width="7" height="6" fill="#000"/><rect x="512" y="661" width="7" height="11" fill="#000"/><rect x="520" y="653" width="7" height="19" fill="#000"/><rect x="528" y="645" width="7" height="27" fill="#000"/><rect x="536" y="637" width="7" height="35" fill="#000"/><rect x="544" y="628" width="7" height="44" fill="#000"/><rect x="552" y="623" width="7" height="49" fill="#000"/><rect x="560" y="624" width="7" height="48" fill="#000"/><rect x="568" y="624" width="7" height="48" fill="#000"/><rect x="576" y="623" width="7" height="49" fill="#000"/><rect x="584" y="626" width="7" height="46" fill="#000"/><rect x="592" y="632" width="7" height="40" fill="#000"/><rect x="600" y="636" width="7" height="36" fill="#000"/><rect x="608" y="640" width="7" height="32" fill="#000"/><rect x="616" y="648" width="7" height="24" fill="#000"/><rect x="624" y="656" width="7" height="16" fill="#000"/><rect x="632" y="659" width="7" height="13" fill="#000"/><rect x="640" y="666" width="7" height="6" fill="#000"/><rect x="664" y="669" width="7" height="3" fill="#000"/><rect x="672" y="670" width="7" height="4" fill="#000"/><rect x="680" y="670" width="7" height="15" fill="#000"/><rect x="688" y="670" width="7" height="22" fill="#000"/><rect x="696" y="670" width="7" height="36" fill="#000"/><rect x="704" y="670" width="7" height="45" fill="#000"/><rect x="712" y="670" width="7" height="45" fill="#000"/><rect x="720" y="670" width="7" height="55" fill="#000"/><rect x="728" y="670" width="7" height="60" fill="#000"/><rect x="736" y="670" width="7" height="62" fill="#000"/><rect x="744" y="670" width="7" height="55" fill="#000"/><rect x="752" y="670" width="7" height="59" fill="#000"/><rect x="760" y="670" width="7" height="63" fill="#000"/><rect x="768" y="670" width="7" height="74" fill="#000"/><rect x="776" y="670" width="7" height="81" fill="#000"/><rect x="784" y="670" width="7" height="90" fill="#000"/><rect x="792" y="670" width="7" height="96" fill="#000"/><rect x="800" y="670" width="7" height="94" fill="#000"/><rect x="808" y="670" width="7" height="92" fill="#000"/><rect x="816" y="670" width="7" height="85" fill="#000"/><rect x="824" y="670" width="7" height="88" fill="#000"/><rect x="832" y="670" width="7" height="92" fill="#000"/><rect x="840" y="670" width="7" height="94" fill="#000"/><rect x="848" y="670" width="7" height="89" fill="#000"/><rect x="856" y="670" width="7" height="87" fill="#000"/><rect x="864" y="670" width="7" height="81" fill="#000"/><rect x="872" y="670" width="7" height="71" fill="#000"/><rect x="880" y="670" width="7" height="63" fill="#000"/><rect x="3" y="670" width="934" height="2" fill="#000"/></g>
<g><path d="M3,660.4 C5.00,660.46 11.75,660.87 15,660.75 C18.25,660.63 20.00,660.25 22.5,659.7 C25.00,659.15 26.25,658.45 30,657.45 C33.75,656.45 40.00,655.15 45,653.7 C50.00,652.25 55.00,650.58 60,648.75 C65.00,646.92 71.25,644.00 75,642.75 C78.75,641.50 79.50,641.50 82.5,641.25 C85.50,641.00 89.25,640.75 93,641.25 C96.75,641.75 100.50,643.00 105,644.25 C109.50,645.50 115.00,647.00 120,648.75 C125.00,650.50 130.83,652.88 135,654.75 C139.17,656.62 141.67,658.04 145,660 C148.33,661.96 152.08,664.67 155,666.5 C157.92,668.33 160.00,669.62 162.5,671 C165.00,672.38 167.50,673.00 170,674.75 C172.50,676.50 175.00,679.25 177.5,681.5 C180.00,683.75 181.25,684.75 185,688.25 C188.75,691.75 195.00,697.62 200,702.5 C205.00,707.38 210.00,713.50 215,717.5 C220.00,721.50 225.00,724.75 230,726.5 C235.00,728.25 240.00,728.25 245,728 C250.00,727.75 255.00,726.75 260,725 C265.00,723.25 270.42,720.12 275,717.5 C279.58,714.88 284.17,711.05 287.5,709.25 C290.83,707.45 291.25,707.83 295,706.7 C298.75,705.58 305.00,703.40 310,702.5 C315.00,701.60 320.00,701.30 325,701.3 C330.00,701.30 335.00,701.17 340,702.5 C345.00,703.83 350.00,707.38 355,709.25 C360.00,711.12 365.00,712.25 370,713.75 C375.00,715.25 380.00,717.17 385,718.25 C390.00,719.33 395.00,719.88 400,720.2 C405.00,720.53 409.17,720.53 415,720.2 C420.83,719.88 429.17,718.58 435,718.25 C440.83,717.92 445.00,718.00 450,718.25 C455.00,718.50 460.00,719.58 465,719.75 C470.00,719.92 476.25,719.67 480,719.3 C483.75,718.92 485.00,718.42 487.5,717.5 C490.00,716.58 491.25,716.00 495,713.75 C498.75,711.50 505.00,708.00 510,704 C515.00,700.00 520.00,695.12 525,689.75 C530.00,684.38 535.00,677.62 540,671.75 C545.00,665.88 551.33,658.54 555,654.5 C558.67,650.46 558.67,650.21 562,647.5 C565.33,644.79 570.33,641.04 575,638.25 C579.67,635.46 585.00,632.38 590,630.75 C595.00,629.12 601.25,628.83 605,628.5 C608.75,628.17 610.00,628.35 612.5,628.8 C615.00,629.25 616.25,629.80 620,631.2 C623.75,632.60 630.00,634.53 635,637.2 C640.00,639.88 645.00,644.20 650,647.25 C655.00,650.30 660.00,652.92 665,655.5 C670.00,658.08 675.75,660.25 680,662.7 C684.25,665.15 687.17,667.48 690.5,670.2 C693.83,672.92 695.25,675.40 700,679 C704.75,682.60 712.67,687.20 719,691.8 C725.33,696.40 731.67,702.07 738,706.6 C744.33,711.13 750.67,715.27 757,719 C763.33,722.73 769.67,725.68 776,729 C782.33,732.32 788.67,735.92 795,738.9 C801.33,741.88 807.67,744.12 814,746.9 C820.33,749.68 826.67,753.38 833,755.6 C839.33,757.82 847.25,759.50 852,760.2 C856.75,760.90 858.33,760.25 861.5,759.8 C864.67,759.35 867.35,758.77 871,757.5 C874.65,756.23 881.33,753.08 883.4,752.2" fill="none" stroke="#ff0000" stroke-width="3" stroke-linejoin="round"/></g></g>
<path d="M6 10 L16.5 10 L11.25 16 Z" fill="#000"/>
<g><text x="942.5" y="63" font-family="Liberation Sans" font-size="12.5" font-weight="normal" fill="#000" textLength="44.5" lengthAdjust="spacingAndGlyphs">4869.0</text><text x="942.5" y="128" font-family="Liberation Sans" font-size="12.5" font-weight="normal" fill="#000" textLength="44.5" lengthAdjust="spacingAndGlyphs">4711.0</text><text x="942.5" y="193" font-family="Liberation Sans" font-size="12.5" font-weight="normal" fill="#000" textLength="44.5" lengthAdjust="spacingAndGlyphs">4553.0</text><text x="942.5" y="258" font-family="Liberation Sans" font-size="12.5" font-weight="normal" fill="#000" textLength="44.5" lengthAdjust="spacingAndGlyphs">4397.0</text><text x="942.5" y="323" font-family="Liberation Sans" font-size="12.5" font-weight="normal" fill="#000" textLength="44.5" lengthAdjust="spacingAndGlyphs">4239.0</text><text x="942.5" y="388" font-family="Liberation Sans" font-size="12.5" font-weight="normal" fill="#000" textLength="44.5" lengthAdjust="spacingAndGlyphs">4100.0</text><text x="942.5" y="453" font-family="Liberation Sans" font-size="12.5" font-weight="normal" fill="#000" textLength="44.5" lengthAdjust="spacingAndGlyphs">3923.0</text><text x="942.5" y="518" font-family="Liberation Sans" font-size="12.5" font-weight="normal" fill="#000" textLength="44.5" lengthAdjust="spacingAndGlyphs">3767.0</text><text x="942.5" y="583" font-family="Liberation Sans" font-size="12.5" font-weight="normal" fill="#000" textLength="44.5" lengthAdjust="spacingAndGlyphs">3609.0</text><rect x="938" y="71" width="54" height="17" fill="#000" shape-rendering="crispEdges"/><text x="942.5" y="85" font-family="Liberation Sans" font-size="12.5" font-weight="normal" fill="#fff" textLength="44.5" lengthAdjust="spacingAndGlyphs">4819.7</text><rect x="938" y="280" width="54" height="17" fill="#000" shape-rendering="crispEdges"/><text x="942.5" y="294" font-family="Liberation Sans" font-size="12.5" font-weight="normal" fill="#fff" textLength="44.5" lengthAdjust="spacingAndGlyphs">4313.0</text><rect x="938" y="368" width="54" height="17" fill="#000" shape-rendering="crispEdges"/><text x="942.5" y="382" font-family="Liberation Sans" font-size="12.5" font-weight="normal" fill="#fff" textLength="44.5" lengthAdjust="spacingAndGlyphs">4100.0</text><rect x="938" y="388" width="54" height="17" fill="#000" shape-rendering="crispEdges"/><text x="942.5" y="402" font-family="Liberation Sans" font-size="12.5" font-weight="normal" fill="#fff" textLength="44.5" lengthAdjust="spacingAndGlyphs">4048.6</text><rect x="938" y="488" width="54" height="17" fill="#000" shape-rendering="crispEdges"/><text x="942.5" y="502" font-family="Liberation Sans" font-size="12.5" font-weight="normal" fill="#fff" textLength="44.5" lengthAdjust="spacingAndGlyphs">3810.9</text><rect x="938" y="533" width="54" height="17" fill="#000" shape-rendering="crispEdges"/><text x="942.5" y="547" font-family="Liberation Sans" font-size="12.5" font-weight="normal" fill="#fff" textLength="44.5" lengthAdjust="spacingAndGlyphs">3700.0</text><text x="940" y="630.5" font-family="Liberation Sans" font-size="12.5" font-weight="normal" fill="#000" textLength="36" lengthAdjust="spacingAndGlyphs">67.42</text><rect x="938" y="663" width="10" height="17" fill="#000" shape-rendering="crispEdges"/><text x="938.5" y="676.5" font-family="Liberation Sans" font-size="12.5" font-weight="normal" fill="#fff" textLength="8" lengthAdjust="spacingAndGlyphs">0</text><text x="946.5" y="676.5" font-family="Liberation Sans" font-size="12.5" font-weight="normal" fill="#000" textLength="21.5" lengthAdjust="spacingAndGlyphs">.00</text><text x="939.5" y="769" font-family="Liberation Sans" font-size="12.5" font-weight="normal" fill="#000" textLength="29.5" lengthAdjust="spacingAndGlyphs">-125</text><text x="7.5" y="631.5" font-family="Liberation Sans" font-size="12.5" font-weight="normal" fill="#000" textLength="192.5" lengthAdjust="spacingAndGlyphs">MACD(12,26,9) -75.67 -100.38</text><text x="2.5" y="790.8" font-family="Liberation Sans" font-size="12.5" font-weight="normal" fill="#000" textLength="78.5" lengthAdjust="spacingAndGlyphs">22 Dec 2021</text><text x="130.5" y="790.8" font-family="Liberation Sans" font-size="12.5" font-weight="normal" fill="#000" textLength="76.5" lengthAdjust="spacingAndGlyphs">14 Jan 2022</text><text x="258" y="790.8" font-family="Liberation Sans" font-size="12.5" font-weight="normal" fill="#000" textLength="69.5" lengthAdjust="spacingAndGlyphs">7 Feb 2022</text><text x="385.5" y="790.8" font-family="Liberation Sans" font-size="12.5" font-weight="normal" fill="#000" textLength="70.5" lengthAdjust="spacingAndGlyphs">1 Mar 2022</text><text x="514" y="790.8" font-family="Liberation Sans" font-size="12.5" font-weight="normal" fill="#000" textLength="77.5" lengthAdjust="spacingAndGlyphs">23 Mar 2022</text><text x="642.5" y="790.8" font-family="Liberation Sans" font-size="12.5" font-weight="normal" fill="#000" textLength="76.5" lengthAdjust="spacingAndGlyphs">14 Apr 2022</text><text x="769.5" y="790.8" font-family="Liberation Sans" font-size="12.5" font-weight="normal" fill="#000" textLength="72.5" lengthAdjust="spacingAndGlyphs">9 May 2022</text></g>
</svg>
</body></html>
